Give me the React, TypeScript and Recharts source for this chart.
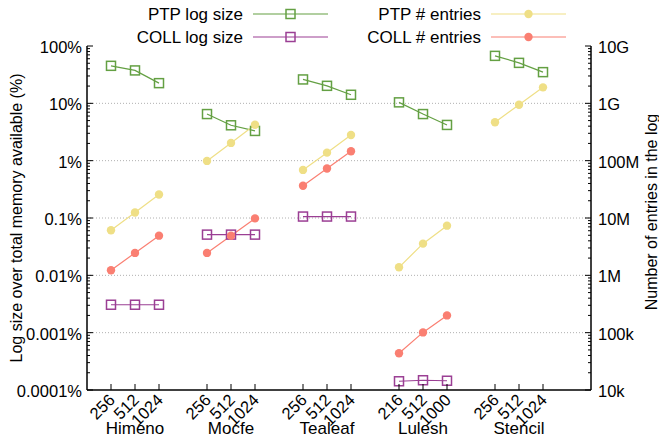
import { LineChart, Line, XAxis, YAxis, ReferenceLine } from "recharts";

const groups = ["Himeno", "Mocfe", "Tealeaf", "Lulesh", "Stencil"];
const scaleLabels = [
  ["256", "512", "1024"],
  ["256", "512", "1024"],
  ["256", "512", "1024"],
  ["216", "512", "1000"],
  ["256", "512", "1024"],
];

// log size, % of total memory
const ptpLogSize = [
  [45.1, 37.5, 22.5],
  [6.5, 4.14, 3.3],
  [26.1, 20.2, 14.1],
  [10.4, 6.5, 4.2],
  [67.3, 50.8, 35.0],
];
const collLogSize = [
  [0.00307, 0.00307, 0.00307],
  [0.0513, 0.0513, 0.0513],
  [0.106, 0.106, 0.106],
  [0.000142, 0.000148, 0.000145],
  [null, null, null],
];

// number of entries in the log
const ptpEntries = [
  [6.1e6, 1.25e7, 2.57e7],
  [9.9e7, 2.04e8, 4.24e8],
  [6.9e7, 1.38e8, 2.81e8],
  [1.38e6, 3.57e6, 7.35e6],
  [4.67e8, 9.46e8, 1.9e9],
];
const collEntries = [
  [1.23e6, 2.46e6, 4.92e6],
  [2.46e6, 4.92e6, 9.84e6],
  [3.65e7, 7.3e7, 1.46e8],
  [4.37e4, 1.01e5, 2.0e5],
  [null, null, null],
];

const pctDecades = [-4, -3, -2, -1, 0, 1, 2];
const pctLabels = ["0.0001%", "0.001%", "0.01%", "0.1%", "1%", "10%", "100%"];
const cntDecades = [4, 5, 6, 7, 8, 9, 10];
const cntLabels = ["10k", "100k", "1M", "10M", "100M", "1G", "10G"];

const GREEN = "#64a043";
const PURPLE = "#9b3f94";
const YELLOW = "#efdf86";
const SALMON = "#fa7f72";
const FONT = '"Liberation Sans", Arial, Helvetica, sans-serif';

// one row per run, with an empty row between benchmarks so lines break
const rows: any[] = [];
groups.forEach((g, gi) => {
  scaleLabels[gi].forEach((lbl, i) => {
    rows.push({
      x: gi * 4 + i + 1,
      group: g,
      label: lbl,
      mid: i === 1,
      ptpLog: ptpLogSize[gi][i],
      collLog: collLogSize[gi][i],
      ptpCnt: ptpEntries[gi][i],
      collCnt: collEntries[gi][i],
    });
  });
  if (gi < groups.length - 1) rows.push({ x: gi * 4 + 4 });
});
const xTicks = rows.filter((r) => r.label).map((r) => r.x);

const withMinors = (decades: number[]) => {
  const out: number[] = [];
  decades.forEach((d, i) => {
    const steps = i === decades.length - 1 ? 1 : 9;
    for (let m = 1; m <= steps; m++) out.push(m * Math.pow(10, d));
  });
  return out;
};
const pctTicks = withMinors(pctDecades);
const cntTicks = withMinors(cntDecades);

const decadeLabel = (v: number, decades: number[], labels: string[]) => {
  const e = Math.log10(v);
  const k = decades.findIndex((d) => Math.abs(d - e) < 1e-6);
  return k >= 0 ? labels[k] : null;
};

const LeftTick = (props: any) => {
  const { x, y, payload } = props;
  const lbl = decadeLabel(payload.value, pctDecades, pctLabels);
  return (
    <g>
      <line x1={x} x2={x + (lbl ? 6 : 3)} y1={y} y2={y} stroke="#000" strokeWidth={1} />
      {lbl && (
        <text x={x - 5} y={y + 7} textAnchor="end" fontSize={16.5} fontFamily={FONT} fill="#000">
          {lbl}
        </text>
      )}
    </g>
  );
};

const RightTick = (props: any) => {
  const { x, y, payload } = props;
  const lbl = decadeLabel(payload.value, cntDecades, cntLabels);
  return (
    <g>
      <line x1={x} x2={x - (lbl ? 6 : 3)} y1={y} y2={y} stroke="#000" strokeWidth={1} />
      {lbl && (
        <text x={x + 7} y={y + 7} textAnchor="start" fontSize={16.5} fontFamily={FONT} fill="#000">
          {lbl}
        </text>
      )}
    </g>
  );
};

const BottomTick = (props: any) => {
  const { x, y, payload } = props;
  const row = rows.find((r) => r.x === payload.value);
  if (!row) return <g />;
  return (
    <g>
      <line x1={x} x2={x} y1={y} y2={y - 6} stroke="#000" strokeWidth={1} />
      <text
        x={x + 5}
        y={y + 11}
        textAnchor="end"
        fontSize={16.5}
        fontFamily={FONT}
        fill="#000"
        transform={`rotate(-45 ${x + 5} ${y + 11})`}
      >
        {row.label}
      </text>
      {row.mid && (
        <text x={x} y={y + 44} textAnchor="middle" fontSize={17} fontFamily={FONT} fill="#000">
          {row.group}
        </text>
      )}
    </g>
  );
};

const TopTick = (props: any) => {
  const { x, y } = props;
  return <line x1={x} x2={x} y1={y} y2={y + 6} stroke="#000" strokeWidth={1} />;
};

const SquareDot = (color: string) => (props: any) => {
  const { cx, cy, index } = props;
  if (cx == null || cy == null) return <g key={index} />;
  return (
    <rect key={index} x={cx - 4.5} y={cy - 4.5} width={9} height={9} fill="none" stroke={color} strokeWidth={1.5} />
  );
};

const CircleDot = (color: string) => (props: any) => {
  const { cx, cy, index } = props;
  if (cx == null || cy == null) return <g key={index} />;
  return <circle key={index} cx={cx} cy={cy} r={4.2} fill={color} stroke="none" />;
};

const legendItems = [
  { name: "PTP log size", color: GREEN, square: true, tx: 243, row: 0 },
  { name: "COLL log size", color: PURPLE, square: true, tx: 243, row: 1 },
  { name: "PTP # entries", color: YELLOW, square: false, tx: 481, row: 0 },
  { name: "COLL # entries", color: SALMON, square: false, tx: 481, row: 1 },
];

export default function App() {
  return (
    <div style={{ position: "absolute", left: 0, top: 0, width: 659, height: 441, background: "#fff" }}>
      <LineChart width={659} height={441} data={rows} margin={{ top: 46, right: 0, bottom: 0, left: 0 }}>
        {pctDecades.slice(1, -1).map((d) => (
          <ReferenceLine
            key={d}
            yAxisId="pct"
            xAxisId="bottom"
            y={Math.pow(10, d)}
            stroke="#b0b0b0"
            strokeDasharray="1 2"
            strokeWidth={1}
          />
        ))}
        <XAxis
          xAxisId="bottom"
          dataKey="x"
          type="number"
          domain={[0, 21]}
          ticks={xTicks}
          interval={0}
          height={51}
          tickSize={0}
          tickMargin={0}
          tickLine={false}
          axisLine={{ stroke: "#000", strokeWidth: 1.5 }}
          tick={<BottomTick />}
        />
        <XAxis
          xAxisId="top"
          orientation="top"
          dataKey="x"
          type="number"
          domain={[0, 21]}
          ticks={xTicks}
          interval={0}
          height={0}
          tickSize={0}
          tickMargin={0}
          tickLine={false}
          axisLine={{ stroke: "#000", strokeWidth: 1.5 }}
          tick={<TopTick />}
        />
        <YAxis
          yAxisId="pct"
          type="number"
          scale="log"
          domain={[1e-4, 100]}
          allowDataOverflow
          ticks={pctTicks}
          interval={0}
          width={87}
          tickSize={0}
          tickMargin={0}
          tickLine={false}
          axisLine={{ stroke: "#000", strokeWidth: 1.5 }}
          tick={<LeftTick />}
        />
        <YAxis
          yAxisId="cnt"
          orientation="right"
          type="number"
          scale="log"
          domain={[1e4, 1e10]}
          allowDataOverflow
          ticks={cntTicks}
          interval={0}
          width={68}
          tickSize={0}
          tickMargin={0}
          tickLine={false}
          axisLine={{ stroke: "#000", strokeWidth: 1.5 }}
          tick={<RightTick />}
        />
        <Line
          xAxisId="bottom"
          yAxisId="pct"
          dataKey="ptpLog"
          stroke={GREEN}
          strokeWidth={1.2}
          dot={SquareDot(GREEN)}
          isAnimationActive={false}
        />
        <Line
          xAxisId="bottom"
          yAxisId="pct"
          dataKey="collLog"
          stroke={PURPLE}
          strokeWidth={1.2}
          dot={SquareDot(PURPLE)}
          isAnimationActive={false}
        />
        <Line
          xAxisId="bottom"
          yAxisId="cnt"
          dataKey="ptpCnt"
          stroke={YELLOW}
          strokeWidth={1.2}
          dot={CircleDot(YELLOW)}
          isAnimationActive={false}
        />
        <Line
          xAxisId="bottom"
          yAxisId="cnt"
          dataKey="collCnt"
          stroke={SALMON}
          strokeWidth={1.2}
          dot={CircleDot(SALMON)}
          isAnimationActive={false}
        />
      </LineChart>
      <svg
        width={659}
        height={441}
        style={{ position: "absolute", left: 0, top: 0, pointerEvents: "none" }}
      >
        {legendItems.map((it) => {
          const cy = 14 + it.row * 23;
          const lx = it.tx + 10;
          return (
            <g key={it.name}>
              <text x={it.tx} y={cy + 6} textAnchor="end" fontSize={17} fontFamily={FONT} fill="#000">
                {it.name}
              </text>
              <line x1={lx} x2={lx + 75} y1={cy} y2={cy} stroke={it.color} strokeWidth={1.2} />
              {it.square ? (
                <rect x={lx + 37.5 - 4.5} y={cy - 4.5} width={9} height={9} fill="none" stroke={it.color} strokeWidth={1.5} />
              ) : (
                <circle cx={lx + 37.5} cy={cy} r={4.2} fill={it.color} />
              )}
            </g>
          );
        })}
        <text
          x={16}
          y={218}
          textAnchor="middle"
          dominantBaseline="central"
          fontSize={16}
          fontFamily={FONT}
          fill="#000"
          transform="rotate(-90 16 218)"
        >
          Log size over total memory available (%)
        </text>
        <text
          x={651}
          y={212}
          textAnchor="middle"
          dominantBaseline="central"
          fontSize={16}
          fontFamily={FONT}
          fill="#000"
          transform="rotate(-90 651 212)"
        >
          Number of entries in the log
        </text>
      </svg>
    </div>
  );
}
